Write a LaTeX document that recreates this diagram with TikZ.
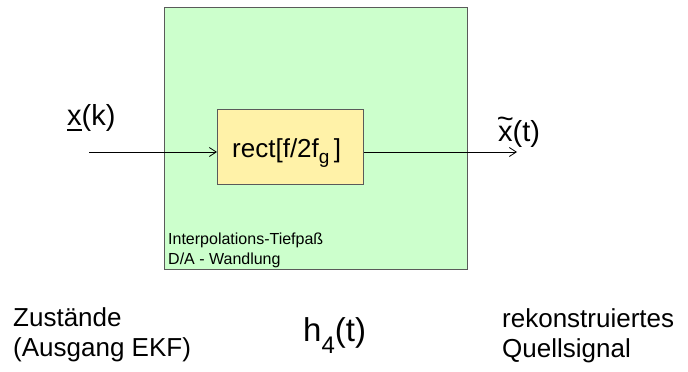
\documentclass[tikz,border=0pt]{standalone}
\usepackage{fontspec}
\setmainfont{Liberation Sans}
\usetikzlibrary{arrows.meta}
\definecolor{boxgreen}{RGB}{204,255,204}
\definecolor{boxyellow}{RGB}{255,242,168}
\definecolor{edgegray}{RGB}{90,90,90}
\newcommand{\ulx}{{\setbox0\hbox{x}\rlap{\rule[-6pt]{\wd0}{1.6pt}}x}}
\newcommand{\tlx}{{\setbox0\hbox{x}\rlap{\hbox to \wd0{\hss\raisebox{0.42em}{\~{}}\hss}}x}}
\begin{document}
\begin{tikzpicture}[x=1pt,y=-1pt,
  lbl/.style={inner sep=0pt, anchor=base west, font=\fontsize{26}{30}\selectfont},
  sig/.style={inner sep=0pt, anchor=base west, font=\fontsize{29}{32}\selectfont},
  small/.style={inner sep=0pt, anchor=base west, font=\fontsize{16}{20}\selectfont},
  arr/.style={-{Straight Barb[length=7pt,width=9pt]}, line width=0.8pt}]
\useasboundingbox (0,0) rectangle (688,372);
\node[draw=edgegray, line width=1pt, fill=boxgreen, minimum width=303pt, minimum height=262pt, inner sep=0pt, anchor=north west] (outer) at (164,7) {};
\node[draw=edgegray, line width=1pt, fill=boxyellow, minimum width=146pt, minimum height=75pt, inner sep=0pt, anchor=north west] (inner) at (217,109) {};
\node[font=\fontsize{26}{30}\selectfont, inner sep=0pt, anchor=base west] (rect) at (232,157) {rect[f/2f\raisebox{-6pt}{\fontsize{19}{20}\selectfont g}\,]};
\coordinate (in) at (89,152);
\coordinate (out) at (517,152);
\draw[arr] (in) -- (inner.west |- in);
\draw[arr] (inner.east |- out) -- (out);
\node[sig] (xk) at (67,125) {\ulx(k)};
\node[sig] (xt) at (498,141) {\tlx(t)};
\node[small] (ip1) at (168,244) {Interpolations-Tiefpaß};
\node[small] (ip2) at (168,264) {D/A - Wandlung};
\node[lbl] (z1) at (13,326) {Zustände};
\node[lbl] (z2) at (13,356) {(Ausgang EKF)};
\node[inner sep=0pt, anchor=base west, font=\fontsize{33}{36}\selectfont] (h4) at (303,341) {h\raisebox{-12pt}{\fontsize{24}{26}\selectfont 4}(t)};
\node[lbl] (r1) at (502,327) {rekonstruiertes};
\node[lbl] (r2) at (502,357) {Quellsignal};
\end{tikzpicture}
\end{document}
